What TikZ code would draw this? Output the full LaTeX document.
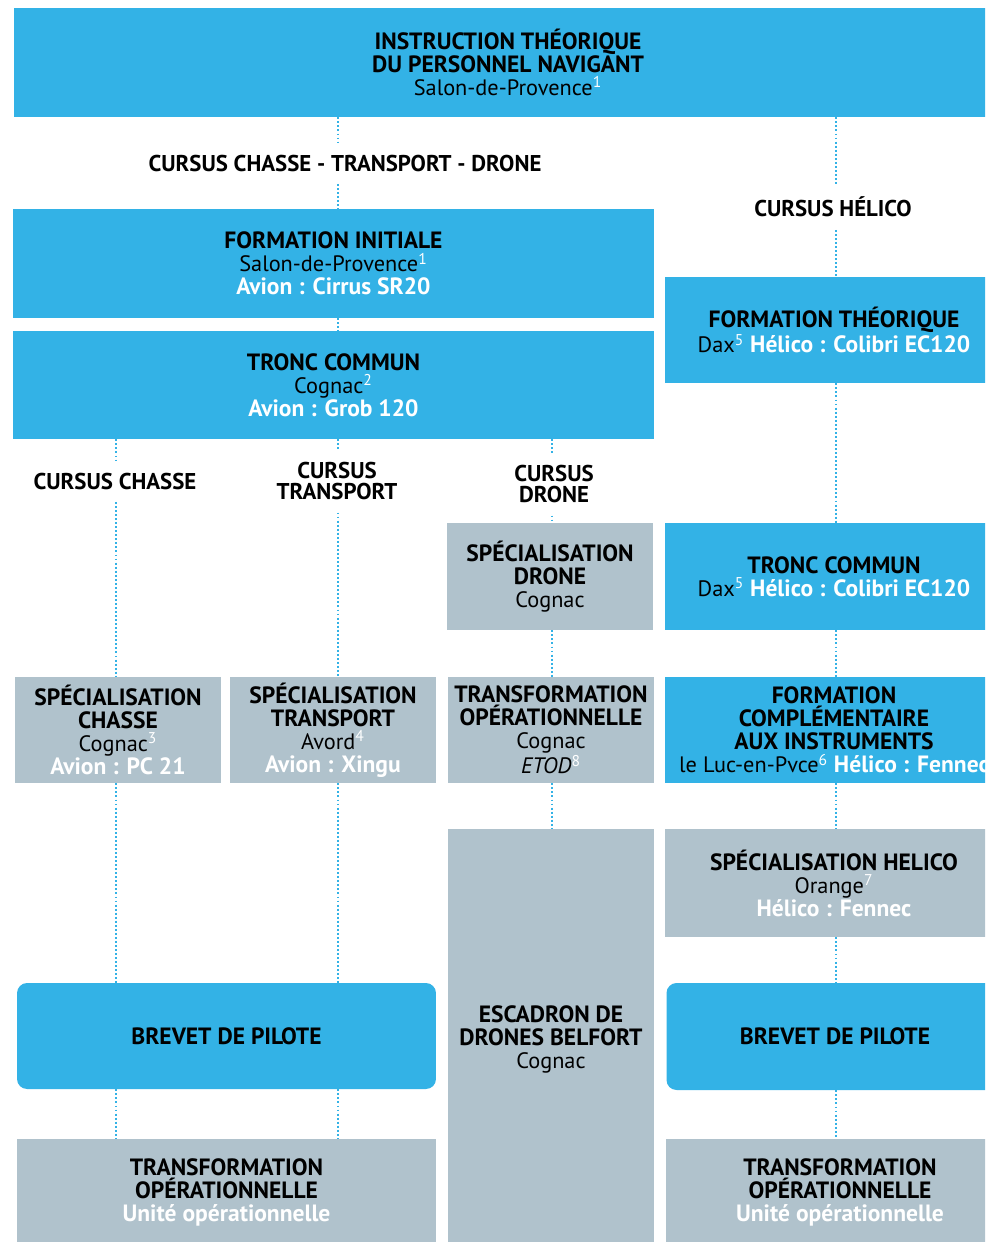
\documentclass[tikz,border=0pt]{standalone}
\usepackage{fontspec}
\setmainfont{PT Sans}
\usetikzlibrary{positioning}
\definecolor{ciel}{RGB}{51,178,230}
\definecolor{ardoise}{RGB}{176,194,204}
\newcommand{\gras}[1]{{\fontsize{13.4}{13.1}\selectfont\bfseries #1}}
\newcommand{\blanc}[1]{\textcolor{white}{\gras{#1}}}
\newcommand{\renvoi}[1]{\textsuperscript{\textcolor{white}{\mdseries #1}}}
\tikzset{
  bloc/.style={inner sep=0pt, align=center, text=black, font=\fontsize{12.7}{13.1}\selectfont},
  bleu/.style={bloc, fill=ciel},
  gris/.style={bloc, fill=ardoise},
  cursus/.style={align=center, inner xsep=2pt, inner ysep=7pt, font=\bfseries\fontsize{13}{12}\selectfont},
  pointille/.style={ciel, line width=1.1pt, dash pattern=on 1.1pt off 1.2pt},
}
\begin{document}
\begin{tikzpicture}[x=0.02cm, y=-0.02cm]
\useasboundingbox (0,0) rectangle (985,1242);
\clip (0,0) rectangle (985,1242);
% columns of the dotted links
\coordinate (xc) at (116,0);
\coordinate (xt) at (338,0);
\coordinate (xd) at (552,0);
\coordinate (xh) at (836,0);
% top
\node[bleu, minimum width=19.76cm, minimum height=2.18cm] (top) at (508,62.5)
  {\gras{INSTRUCTION THÉORIQUE}\\\gras{DU PERSONNEL NAVIGANT}\\Salon-de-Provence\renvoi{1}};
\node[cursus] (lcommun) at (345,163) {CURSUS CHASSE - TRANSPORT - DRONE};
\node[cursus] (lhelico) at (833,207) {CURSUS HÉLICO};
% airplane branch
\node[bleu, minimum width=12.82cm, minimum height=2.18cm] (init) at (333.5,263.5)
  {\gras{FORMATION INITIALE}\\Salon-de-Provence\renvoi{1}\\\blanc{Avion : Cirrus SR20}};
\node[bleu, minimum width=12.82cm, minimum height=2.16cm] (tronc) at (333.5,385)
  {\gras{TRONC COMMUN}\\Cognac\renvoi{2}\\\blanc{Avion : Grob 120}};
\node[cursus] (lchasse) at (115,481) {CURSUS CHASSE};
\node[cursus] (ltransport) at (337,481) {CURSUS\\TRANSPORT};
\node[cursus] (ldrone) at (554,484) {CURSUS\\DRONE};
\node[gris, minimum width=4.12cm, minimum height=2.14cm] (sped) at (550,576.5)
  {\gras{SPÉCIALISATION}\\\gras{DRONE}\\Cognac};
\node[gris, minimum width=4.12cm, minimum height=2.12cm] (spech) at (118,730)
  {\gras{SPÉCIALISATION}\\\gras{CHASSE}\\Cognac\renvoi{3}\\\blanc{Avion : PC 21}};
\node[gris, minimum width=4.12cm, minimum height=2.12cm] (spet) at (333,730)
  {\gras{SPÉCIALISATION}\\\gras{TRANSPORT}\\Avord\renvoi{4}\\\blanc{Avion : Xingu}};
\node[gris, minimum width=4.12cm, minimum height=2.12cm] (tod) at (551,730)
  {\gras{TRANSFORMATION}\\\gras{OPÉRATIONNELLE}\\Cognac\\\textit{ETOD}\renvoi{8}};
\node[gris, minimum width=4.12cm, minimum height=8.4cm] (esc) at (551,1039)
  {\gras{ESCADRON DE}\\\gras{DRONES BELFORT}\\Cognac};
\node[bleu, rounded corners=0.2cm, minimum width=8.38cm, minimum height=2.12cm] (brevetg) at (226.5,1036)
  {\gras{BREVET DE PILOTE}};
\node[gris, minimum width=8.38cm, minimum height=2.12cm] (transg) at (226.5,1192)
  {\gras{TRANSFORMATION}\\\gras{OPÉRATIONNELLE}\\\blanc{Unité opérationnelle}};
% helicopter branch
\node[bleu, minimum width=6.76cm, minimum height=2.12cm] (theo) at (834,330)
  {\gras{FORMATION THÉORIQUE}\\Dax\renvoi{5} \blanc{Hélico : Colibri EC120}};
\node[bleu, minimum width=6.76cm, minimum height=2.14cm] (tronch) at (834,576.5)
  {\gras{TRONC COMMUN}\\Dax\renvoi{5} \blanc{Hélico : Colibri EC120}};
\node[bleu, minimum width=6.76cm, minimum height=2.12cm] (fcai) at (834,730)
  {\gras{FORMATION}\\\gras{COMPLÉMENTAIRE}\\\gras{AUX INSTRUMENTS}\\le Luc-en-Pvce\renvoi{6} \blanc{Hélico : Fennec}};
\node[gris, minimum width=6.76cm, minimum height=2.16cm] (spehel) at (834,883)
  {\gras{SPÉCIALISATION HELICO}\\Orange\renvoi{7}\\\blanc{Hélico : Fennec}};
\node[bleu, rounded corners=0.2cm, minimum width=6.74cm, minimum height=2.14cm] (brevetd) at (835,1036.5)
  {\gras{BREVET DE PILOTE}};
\node[gris, minimum width=6.96cm, minimum height=2.12cm] (transd) at (840,1192)
  {\gras{TRANSFORMATION}\\\gras{OPÉRATIONNELLE}\\\blanc{Unité opérationnelle}};
% dotted links
\draw[pointille] (top.south -| xt) -- (lcommun.north -| xt);
\draw[pointille] (lcommun.south -| xt) -- (init.north -| xt);
\draw[pointille] (init.south -| xt) -- (tronc.north -| xt);
\draw[pointille] (tronc.south -| xc) -- (lchasse.north -| xc);
\draw[pointille] (lchasse.south -| xc) -- (spech.north -| xc);
\draw[pointille] (spech.south -| xc) -- (brevetg.north -| xc);
\draw[pointille] (brevetg.south -| xc) -- (transg.north -| xc);
\draw[pointille] (tronc.south -| xt) -- (ltransport.north -| xt);
\draw[pointille] (ltransport.south -| xt) -- (spet.north -| xt);
\draw[pointille] (spet.south -| xt) -- (brevetg.north -| xt);
\draw[pointille] (brevetg.south -| xt) -- (transg.north -| xt);
\draw[pointille] (tronc.south -| xd) -- (ldrone.north -| xd);
\draw[pointille] (ldrone.south -| xd) -- (sped.north -| xd);
\draw[pointille] (sped.south -| xd) -- (tod.north -| xd);
\draw[pointille] (tod.south -| xd) -- (esc.north -| xd);
\draw[pointille] (top.south -| xh) -- (lhelico.north -| xh);
\draw[pointille] (lhelico.south -| xh) -- (theo.north -| xh);
\draw[pointille] (theo.south -| xh) -- (tronch.north -| xh);
\draw[pointille] (tronch.south -| xh) -- (fcai.north -| xh);
\draw[pointille] (fcai.south -| xh) -- (spehel.north -| xh);
\draw[pointille] (spehel.south -| xh) -- (brevetd.north -| xh);
\draw[pointille] (brevetd.south -| xh) -- (transd.north -| xh);
\end{tikzpicture}
\end{document}
